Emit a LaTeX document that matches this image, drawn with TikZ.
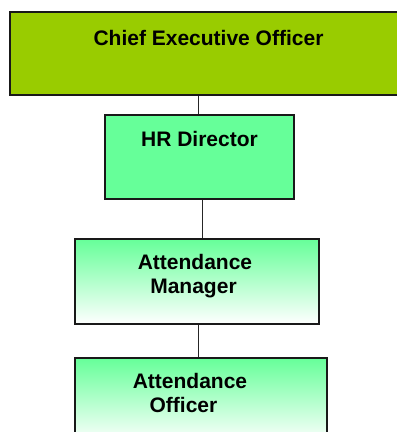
\documentclass[tikz,border=0pt]{standalone}
\usepackage{fontspec}
\setmainfont{Liberation Sans}
\usetikzlibrary{calc}
\definecolor{ceogreen}{HTML}{99CC00}
\definecolor{mint}{HTML}{66FF99}
\tikzset{
  box/.style={draw=black!90, line width=1.3pt, rectangle, inner sep=0pt},
  grad/.style={box, top color=mint, bottom color=white},
  lbl/.style={font=\bfseries\fontsize{21}{24}\selectfont, inner sep=0pt, anchor=base},
  conn/.style={draw=black!85, line width=1pt}
}
\begin{document}
\begin{tikzpicture}[x=1pt,y=-1pt]
\clip (0,0) rectangle (397,432);
\useasboundingbox (0,0) rectangle (397,432);
\fill[white] (0,0) rectangle (397,432);
% boxes
\node[box, fill=ceogreen, minimum width=396pt, minimum height=83pt] (ceo) at (208,53.5) {};
\node[box, fill=mint, minimum width=189pt, minimum height=84pt] (hr) at (199.5,157) {};
\node[grad, minimum width=244pt, minimum height=85pt] (am) at (197,281.5) {};
\node[grad, minimum width=252pt, minimum height=85pt] (ao) at (201,400.5) {};
% texts
\node[lbl] (ceot) at (208.5,45) {Chief Executive Officer};
\node[lbl] (hrt) at (199.5,146) {HR Director};
\node[lbl] (amt1) at (195,269) {Attendance};
\node[lbl] (amt2) at (193.5,293) {Manager};
\node[lbl] (aot1) at (190,388) {Attendance};
\node[lbl] (aot2) at (183.5,412) {Officer};
% connectors
\draw[conn] ([xshift=-1.5pt]hr.north |- ceo.south) -- ([xshift=-1.5pt]hr.north);
\draw[conn] ([xshift=2.5pt]hr.south) -- ([xshift=2.5pt]hr.south |- am.north);
\draw[conn] ([xshift=1pt]am.south) -- ([xshift=1pt]am.south |- ao.north);
\end{tikzpicture}
\end{document}
